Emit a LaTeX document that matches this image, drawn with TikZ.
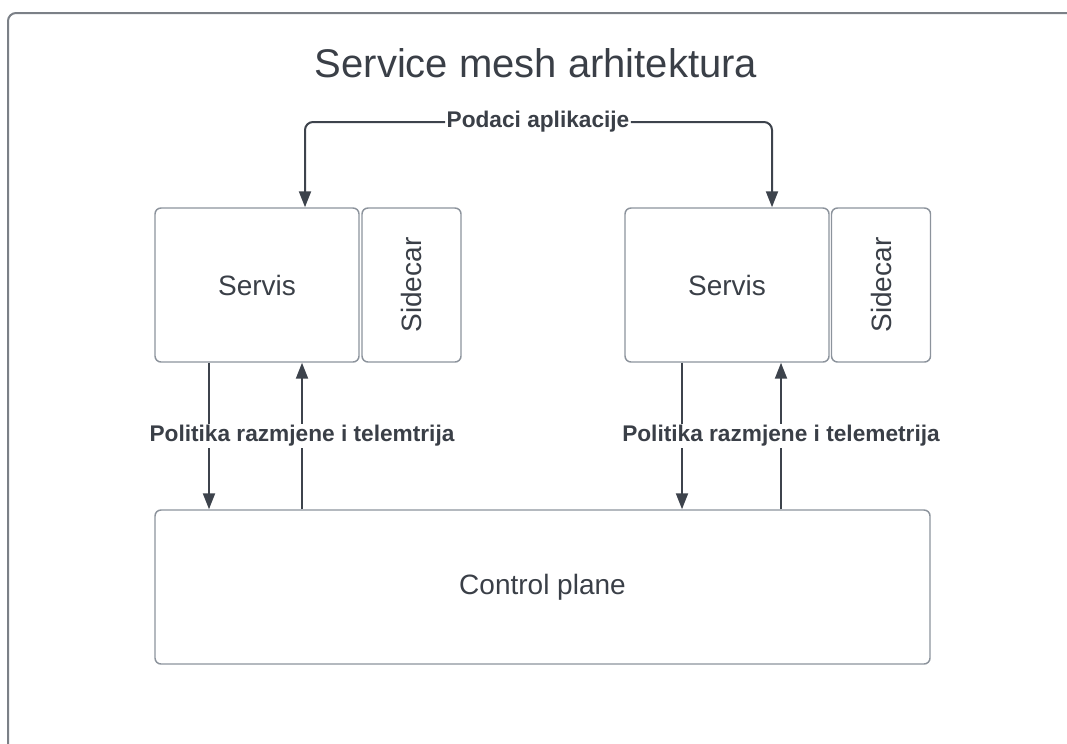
\documentclass[tikz,border=0pt]{standalone}
\usepackage{fontspec}
\setmainfont{Liberation Sans}
\usetikzlibrary{arrows.meta}
\definecolor{linegray}{HTML}{3D434C}
\definecolor{boxgray}{HTML}{8C939C}
\definecolor{textgray}{HTML}{3A3F47}
\definecolor{framegray}{HTML}{7B8087}

\begin{document}
\begin{tikzpicture}[
    x=0.75pt, y=-0.75pt,
    >={Triangle[length=12pt,width=9pt]},
    box/.style={draw=boxgray, line width=1.1pt, rounded corners=4.5pt,
      minimum height=115.5pt, inner sep=0pt, text=textgray,
      font=\fontsize{21}{25}\selectfont},
    servisbox/.style={box, minimum width=153pt},
    sidecarbox/.style={box, minimum width=74.25pt},
    flow/.style={draw=linegray, line width=1.5pt},
    lbl/.style={fill=white, inner sep=1pt, text=textgray,
      font=\fontsize{17}{20}\selectfont\bfseries}
    ]

    \useasboundingbox (0,0) rectangle (1067,743);

    % frame
    \draw[framegray, line width=1.5pt, rounded corners=6pt] (8,770) |- (1090,13);

    \node[text=textgray, font=\fontsize{30}{36}\selectfont] (naslov) at (536,63)
      {Service mesh arhitektura};

    % services with sidecars
    \node[servisbox]  (servisA)  at (257,285)   {Servis};
    \node[sidecarbox] (sidecarA) at (411.5,285) {\rotatebox{90}{Sidecar}};
    \node[servisbox]  (servisB)  at (727,285)   {Servis};
    \node[sidecarbox] (sidecarB) at (881,285)   {\rotatebox{90}{Sidecar}};

    \node[box, minimum width=581.25pt] (control) at (542.5,587) {Control plane};

    % application data
    \node[lbl] (podaci) at (538,122) {Podaci aplikacije};
    \draw[flow, ->, rounded corners=6pt] (podaci.west) -| ([xshift=36pt]servisA.north);
    \draw[flow, ->, rounded corners=6pt] (podaci.east) -| ([xshift=33.75pt]servisB.north);

    % policy and telemetry
    \draw[flow, ->] ([xshift=-36pt]servisA.south)
      -- ([xshift=-36pt]servisA.south |- control.north);
    \draw[flow, ->] ([xshift=33.75pt]servisA.south |- control.north)
      -- node[lbl]{Politika razmjene i telemtrija} ([xshift=33.75pt]servisA.south);
    \draw[flow, ->] ([xshift=-33.75pt]servisB.south)
      -- ([xshift=-33.75pt]servisB.south |- control.north);
    \draw[flow, ->] ([xshift=40.5pt]servisB.south |- control.north)
      -- node[lbl]{Politika razmjene i telemetrija} ([xshift=40.5pt]servisB.south);

  \end{tikzpicture}
\end{document}
